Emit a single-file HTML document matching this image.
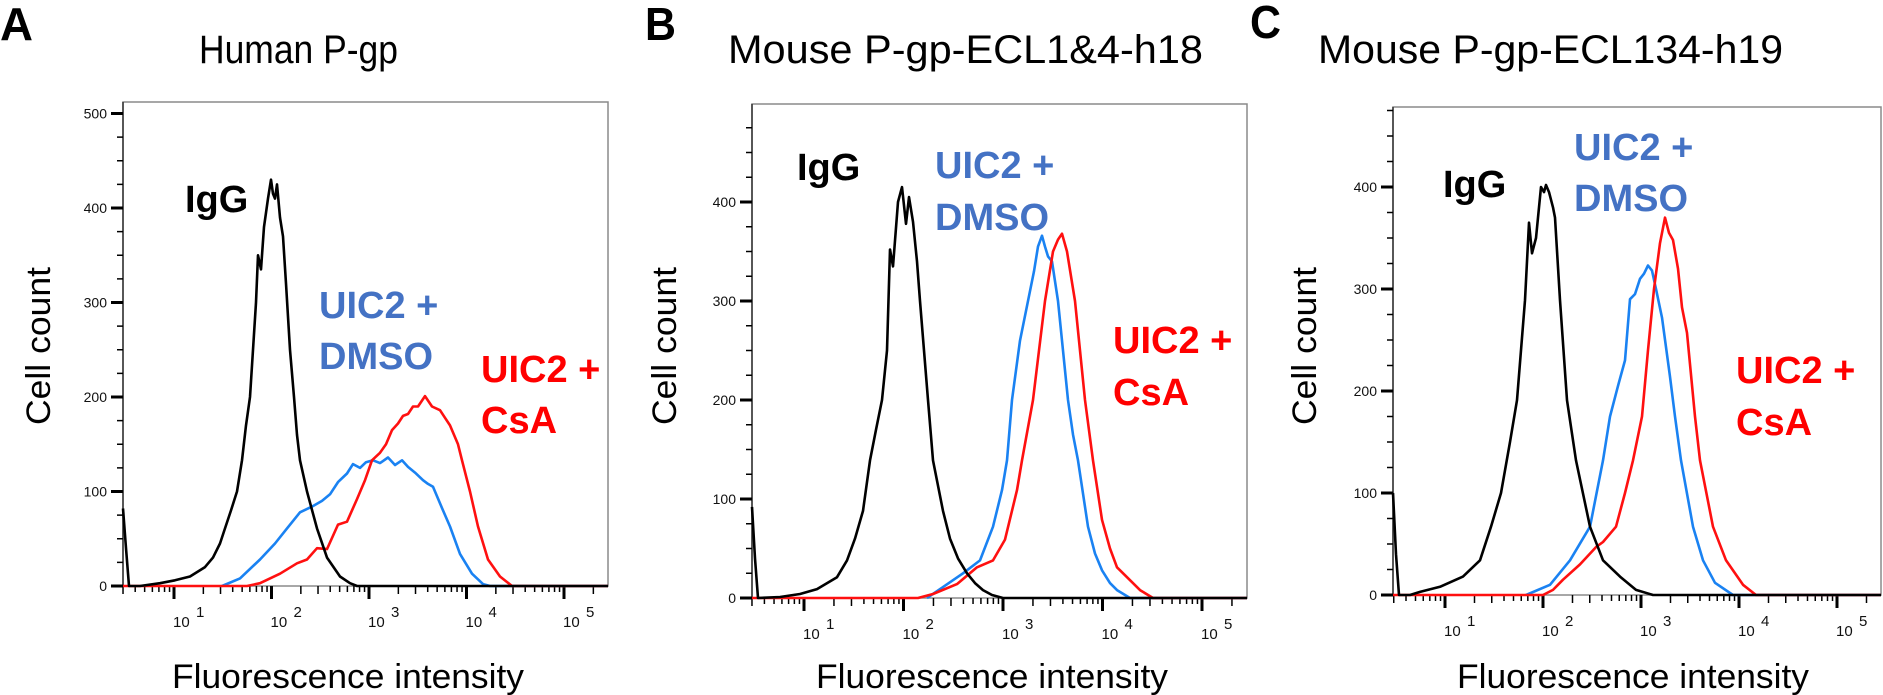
<!DOCTYPE html>
<html><head><meta charset="utf-8"><style>
html,body{margin:0;padding:0;background:#fff;}
svg{display:block;}
text{font-family:"Liberation Sans",Arial,sans-serif;}
</style></head><body>
<svg id="s" width="1883" height="695" viewBox="0 0 1883 695" xmlns="http://www.w3.org/2000/svg">
<text x="0" y="40" font-size="46" font-weight="bold" textLength="33" lengthAdjust="spacingAndGlyphs">A</text>
<text x="645" y="40" font-size="46" font-weight="bold" textLength="31" lengthAdjust="spacingAndGlyphs">B</text>
<text x="1250" y="38" font-size="46" font-weight="bold" textLength="31" lengthAdjust="spacingAndGlyphs">C</text>
<text x="199" y="63" font-size="40" textLength="199" lengthAdjust="spacingAndGlyphs">Human P-gp</text>
<text x="728" y="63" font-size="40" textLength="475" lengthAdjust="spacingAndGlyphs">Mouse P-gp-ECL1&amp;4-h18</text>
<text x="1318" y="63" font-size="40" textLength="465" lengthAdjust="spacingAndGlyphs">Mouse P-gp-ECL134-h19</text>
</svg>
<script>
var NS="http://www.w3.org/2000/svg",S=document.getElementById('s');
function el(t,a,txt){var e=document.createElementNS(NS,t);for(var k in a)e.setAttribute(k,a[k]);if(txt!=null)e.textContent=txt;S.appendChild(e);return e;}
function panel(P){
 var L=P.L,T=P.T,R=P.R,B=P.B,ys=P.ys;
 el('rect',{x:L,y:T,width:R-L,height:B-T,fill:'none',stroke:'#8a8a8a','stroke-width':1.5});
 el('line',{x1:L,y1:T,x2:L,y2:B,stroke:'#333','stroke-width':1.5});
 for(var v=0;v<=P.ymax;v+=25){
  var y=B-v*ys; if(y<T-2)break;
  var maj=(v%100==0);
  el('line',{x1:L-(maj?12:6),y1:y,x2:L,y2:y,stroke:'#000','stroke-width':maj?3:1.5});
  if(maj && v<=P.ylab) el('text',{x:L-16,y:y+5,'font-size':14,'text-anchor':'end',fill:'#111'},String(v));
 }
 function xp(lg){return P.x1+(lg-1)*P.d;}
 for(var e=0;e<=5;e++){for(var m=1;m<=9;m++){
  var lg=e+Math.log10(m),x=xp(lg); if(x<L-0.5||x>R+0.5)continue;
  var maj=(m==1);
  el('line',{x1:x,y1:B,x2:x,y2:B+(maj?13:(m<=3?8:6)),stroke:'#000','stroke-width':maj?3:1.5});
  if(maj&&e>=1){el('text',{x:x-1,y:B+41,'font-size':15,fill:'#111'},'10');el('text',{x:x+22,y:B+31,'font-size':15,fill:'#111'},String(e));}
 }}
 el('text',{x:P.xt,y:688,'font-size':34,'text-anchor':'middle',textLength:352,lengthAdjust:'spacingAndGlyphs'},'Fluorescence intensity');
 var yc=346; el('text',{x:P.yt,y:yc,'font-size':34,'text-anchor':'middle',transform:'rotate(-90 '+P.yt+' '+yc+')',textLength:158,lengthAdjust:'spacingAndGlyphs'},'Cell count');
 var cols={blk:'#000',b:'#1a82f2',r:'#ff1010'};
 ['b','r','blk'].forEach(function(c){
  var pts=P[c],d='';
  pts.forEach(function(p,i){d+=(i?'L':'M')+p[0]+' '+(B-p[1]*ys).toFixed(1)+' ';});
  el('path',{d:d,fill:'none',stroke:cols[c],'stroke-width':2.6,'stroke-linejoin':'round'});
 });
 P.lab.forEach(function(l){el('text',{x:l[0],y:l[1],'font-size':38,'font-weight':'bold',fill:l[3]},l[2]);});
}
var BL='#4472c4',RD='#ff0000';
panel({L:123,T:102,R:608,B:586,ys:0.945,ymax:500,ylab:500,x1:174,d:97.5,xt:348,yt:50,
 lab:[[185,212,'IgG','#000'],[319,318,'UIC2 +',BL],[319,369,'DMSO',BL],[481,382,'UIC2 +',RD],[481,433,'CsA',RD]],
 blk:[[123,82],[126,40],[129,0],[140,0],[160,3],[175,6],[190,10],[205,20],[213,30],[220,45],[225,61],[231,80],[237,100],[242,133],[246,170],[250,200],[253,250],[256,300],[258,350],[261,335],[264,380],[268,410],[271,430],[273,415],[275,410],[277,425],[280,390],[283,370],[286,320],[290,250],[294,200],[297,160],[300,133],[307,100],[317,61],[327,30],[340,10],[350,3],[357,0],[608,0]],
 b:[[222,0],[240,8],[260,28],[275,45],[287,61],[300,78],[312,84],[322,90],[330,97],[338,110],[347,119],[353,129],[360,125],[366,131],[373,133],[380,130],[388,136],[395,128],[402,133],[408,126],[415,120],[423,112],[428,108],[433,105],[443,80],[450,63],[460,34],[472,13],[483,2],[490,0],[608,0]],
 r:[[123,0],[247,0],[260,3],[280,13],[297,24],[307,28],[317,40],[327,39],[338,65],[347,68],[357,92],[365,112],[372,133],[380,141],[386,150],[392,165],[398,172],[403,180],[408,182],[413,190],[418,190],[425,201],[432,190],[440,186],[445,178],[450,170],[458,150],[462,133],[470,100],[478,63],[488,28],[500,10],[512,0],[608,0]]
});
panel({L:752,T:104,R:1247,B:598,ys:0.99,ymax:475,ylab:400,x1:804,d:99.5,xt:992,yt:676,
 lab:[[797,180,'IgG','#000'],[935,178,'UIC2 +',BL],[935,230,'DMSO',BL],[1113,353,'UIC2 +',RD],[1113,405,'CsA',RD]],
 blk:[[752,92],[755,40],[758,0],[780,1],[800,4],[817,9],[837,21],[847,38],[855,60],[863,88],[870,139],[876,170],[882,200],[887,250],[890,352],[893,335],[898,400],[902,415],[906,378],[909,405],[913,380],[917,340],[920,300],[924,250],[928,200],[933,139],[943,88],[950,60],[958,40],[967,25],[975,15],[983,8],[992,3],[1003,0],[1247,0]],
 b:[[927,0],[943,11],[963,25],[980,38],[993,72],[1002,109],[1007,139],[1012,200],[1020,260],[1028,300],[1034,330],[1038,355],[1042,366],[1045,355],[1048,345],[1052,340],[1058,300],[1063,250],[1068,200],[1073,165],[1078,139],[1088,72],[1095,45],[1102,28],[1110,15],[1117,8],[1130,0],[1247,0]],
 r:[[752,0],[918,0],[933,4],[957,14],[977,31],[993,38],[1005,59],[1017,109],[1022,139],[1033,200],[1045,300],[1053,350],[1058,362],[1062,368],[1067,350],[1075,300],[1085,200],[1093,139],[1102,79],[1110,50],[1117,31],[1127,21],[1140,8],[1153,0],[1247,0]]
});
panel({L:1393,T:107,R:1881,B:595,ys:1.02,ymax:475,ylab:400,x1:1445,d:98,xt:1633,yt:1316,
 lab:[[1443,197,'IgG','#000'],[1574,160,'UIC2 +',BL],[1574,211,'DMSO',BL],[1736,383,'UIC2 +',RD],[1736,435,'CsA',RD]],
 blk:[[1393,100],[1396,40],[1399,0],[1410,0],[1420,3],[1440,8],[1463,18],[1480,34],[1491,67],[1501,100],[1510,150],[1517,191],[1525,289],[1529,365],[1532,335],[1536,350],[1541,400],[1544,395],[1546,402],[1549,395],[1553,380],[1555,370],[1560,289],[1567,191],[1576,132],[1590,67],[1603,34],[1620,18],[1636,5],[1653,0],[1881,0]],
 b:[[1526,0],[1550,10],[1570,34],[1590,67],[1603,132],[1610,175],[1618,205],[1625,230],[1630,290],[1635,295],[1640,310],[1644,315],[1648,323],[1652,318],[1656,300],[1662,272],[1670,214],[1675,175],[1681,132],[1693,67],[1703,34],[1715,12],[1733,0],[1881,0]],
 r:[[1393,0],[1543,0],[1553,5],[1563,15],[1580,30],[1596,47],[1603,52],[1616,67],[1625,100],[1633,132],[1642,175],[1648,240],[1654,300],[1660,345],[1665,370],[1669,355],[1673,348],[1678,320],[1682,282],[1687,257],[1695,175],[1700,132],[1713,67],[1726,34],[1743,10],[1756,0],[1881,0]]
});
</script>
</body></html>
